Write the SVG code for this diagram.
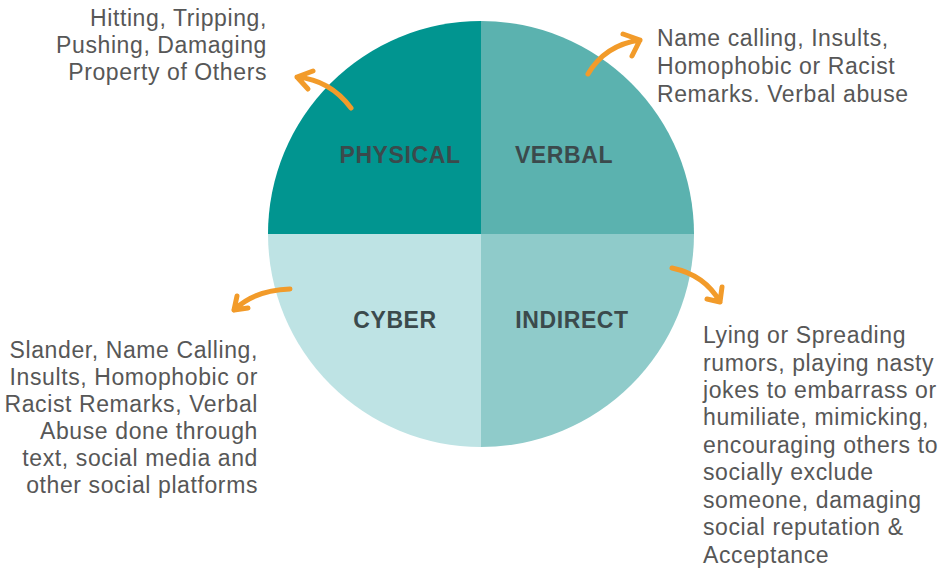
<svg xmlns="http://www.w3.org/2000/svg" width="944" height="571" viewBox="0 0 944 571">
<defs>
<style>
.lbl{font-family:"Liberation Sans",Arial,sans-serif;font-weight:bold;font-size:23px;fill:#3b4a4c;text-anchor:middle;letter-spacing:0.6px}
.txt{font-family:"Liberation Sans",Arial,sans-serif;font-size:23px;fill:#575757;letter-spacing:0.6px}
.r{text-anchor:end}
.arr{fill:none;stroke:#F29B2A;stroke-width:5;stroke-linecap:round;stroke-linejoin:round}
</style>
</defs>
<rect width="944" height="571" fill="#ffffff"/>
<g id="physical">
<path d="M481,234 L268,234 A213,213 0 0 1 481,21 Z" fill="#019590"/>
<text class="lbl" x="400" y="163">PHYSICAL</text>
</g>
<g id="verbal">
<path d="M481,234 L481,21 A213,213 0 0 1 694,234 Z" fill="#5BB2AF"/>
<text class="lbl" x="564" y="163">VERBAL</text>
</g>
<g id="indirect">
<path d="M481,234 L694,234 A213,213 0 0 1 481,447 Z" fill="#8FCBCA"/>
<text class="lbl" x="572" y="328">INDIRECT</text>
</g>
<g id="cyber">
<path d="M481,234 L481,447 A213,213 0 0 1 268,234 Z" fill="#BEE3E4"/>
<text class="lbl" x="395" y="328">CYBER</text>
</g>
<g id="connectors">
<path class="arr" d="M351,108 Q330,80 297,77 M313,71 L297,77 L308,89"/>
<path class="arr" d="M588,74 Q605,45 640,40 M623,34 L640,40 L632,56"/>
<path class="arr" d="M672,268 Q705,275 720,302 M722,287 L720,302 L707,299"/>
<path class="arr" d="M290,289 Q255,290 234,310 M237,296 L234,310 L248,308"/>
</g>
<g id="physical-text">
<text class="txt r" x="267" y="26">Hitting, Tripping,</text>
<text class="txt r" x="267" y="53">Pushing, Damaging</text>
<text class="txt r" x="267" y="80">Property of Others</text>
</g>
<g id="verbal-text">
<text class="txt" x="657" y="46">Name calling, Insults,</text>
<text class="txt" x="657" y="74">Homophobic or Racist</text>
<text class="txt" x="657" y="102">Remarks. Verbal abuse</text>
</g>
<g id="cyber-text">
<text class="txt r" x="258" y="358">Slander, Name Calling,</text>
<text class="txt r" x="258" y="385">Insults, Homophobic or</text>
<text class="txt r" x="258" y="412">Racist Remarks, Verbal</text>
<text class="txt r" x="258" y="439">Abuse done through</text>
<text class="txt r" x="258" y="466">text, social media and</text>
<text class="txt r" x="258" y="493">other social platforms</text>
</g>
<g id="indirect-text">
<text class="txt" x="703" y="343">Lying or Spreading</text>
<text class="txt" x="703" y="371">rumors, playing nasty</text>
<text class="txt" x="703" y="398">jokes to embarrass or</text>
<text class="txt" x="703" y="425">humiliate, mimicking,</text>
<text class="txt" x="703" y="453">encouraging others to</text>
<text class="txt" x="703" y="480">socially exclude</text>
<text class="txt" x="703" y="508">someone, damaging</text>
<text class="txt" x="703" y="535">social reputation &amp;</text>
<text class="txt" x="703" y="563">Acceptance</text>
</g>
</svg>
